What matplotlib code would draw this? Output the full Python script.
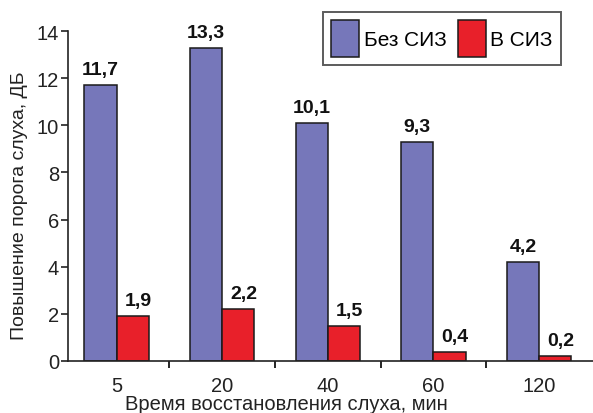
import matplotlib
matplotlib.use("Agg")
import matplotlib.pyplot as plt
from matplotlib.patches import Rectangle
from matplotlib.legend_handler import HandlerPatch
import numpy as np

categories = ["5", "20", "40", "60", "120"]
without_ppe = [11.7, 13.3, 10.1, 9.3, 4.2]
with_ppe = [1.9, 2.2, 1.5, 0.4, 0.2]
without_labels = ["11,7", "13,3", "10,1", "9,3", "4,2"]
with_labels = ["1,9", "2,2", "1,5", "0,4", "0,2"]
series_names = ["Без СИЗ", "В СИЗ"]

plt.rcParams['font.family'] = ['Liberation Sans', 'DejaVu Sans']

fig = plt.figure(figsize=(5.93, 4.14), dpi=100)
ax = fig.add_axes([68/593, 52/414, (593-68)/593, 330/414])

x = np.arange(len(categories))
w = 0.305
blue = '#7677BA'
red = '#E8202A'
ax.bar(x - w/2, without_ppe, w, color=blue, edgecolor='#1a1a1a', linewidth=1.1, label=series_names[0])
ax.bar(x + w/2, with_ppe, w, color=red, edgecolor='#1a1a1a', linewidth=1.1, label=series_names[1])

for xi, v, t in zip(x - w/2, without_ppe, without_labels):
    ax.annotate(t, (xi, v), xytext=(0, 5), textcoords='offset points', ha='center', va='bottom',
                fontsize=14, fontweight='bold', color='#111111', annotation_clip=False)
for xi, v, t in zip(x + w/2, with_ppe, with_labels):
    ax.annotate(t, (xi + 0.05, v), xytext=(0, 5), textcoords='offset points', ha='center', va='bottom',
                fontsize=14, fontweight='bold', color='#111111', annotation_clip=False)

ax.set_xlim(-0.46, 4.51)
ax.set_ylim(0, 14)
ax.set_yticks(np.arange(0, 15, 2))
ax.tick_params(axis='y', labelsize=14.5, length=5, width=1.2, direction='out', pad=1.5, colors='#222222')
ax.set_xticks(x)
ax.set_xticklabels(categories)
ax.tick_params(axis='x', which='major', length=0, labelsize=14.5, pad=11, colors='#222222')
ax.set_xticks(x[:-1] + 0.5, minor=True)
ax.tick_params(axis='x', which='minor', length=5, width=1.2, direction='out')

for s in ['top', 'right']:
    ax.spines[s].set_visible(False)
for s in ['left', 'bottom']:
    ax.spines[s].set_linewidth(1.2)
    ax.spines[s].set_color('#222222')

fig.text(20/593, 1 - 206/414, "Повышение порога слуха, ДБ", rotation=90, ha='center', va='center',
         fontsize=14, color='#222222')
fig.text(286/593, 1 - 405/414, "Время восстановления слуха, мин", ha='center', va='center',
         fontsize=14.5, color='#222222')


def make_patch(legend, orig_handle, xdescent, ydescent, width, height, fontsize):
    ph = height * 32 / 48
    return Rectangle((-xdescent, -ydescent + (height - ph) / 2), width, ph)


leg = ax.legend(ncol=2, loc='upper left', bbox_to_anchor=(323/593, 1 - 13/414),
                bbox_transform=fig.transFigure,
                fontsize=15, frameon=True, fancybox=False, edgecolor='#333333',
                handlelength=1.35, handleheight=2.3, handletextpad=0.2, columnspacing=0.55,
                borderpad=0.4, borderaxespad=0,
                handler_map={Rectangle: HandlerPatch(patch_func=make_patch)})
leg.get_frame().set_linewidth(1.4)

fig.savefig("out.png", dpi=100)
